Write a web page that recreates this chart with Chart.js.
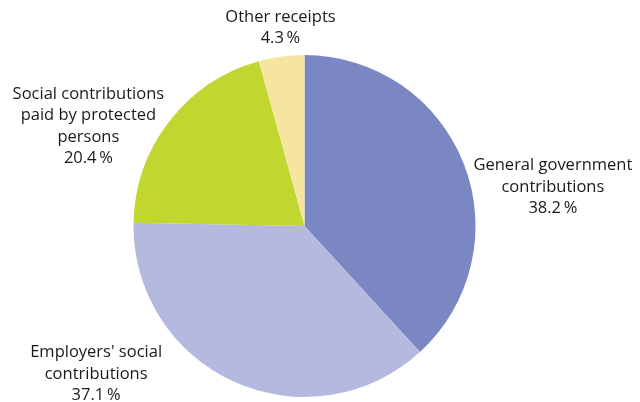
<!DOCTYPE html>
<html>
<head>
<meta charset="utf-8">
<script src="https://cdn.jsdelivr.net/npm/chart.js"></script>
<style>
  html, body { margin:0; padding:0; background:#fff; }
  #wrap { width:640px; height:402px; }
</style>
</head>
<body>
<div id="wrap"><canvas id="chartReceipts" width="640" height="402"></canvas></div>
<script>
// --- receipts by type, share of total (%) ---
const categories = [
  ['General government', 'contributions'],
  ["Employers' social", 'contributions'],
  ['Social contributions', 'paid by protected', 'persons'],
  ['Other receipts']
];
const shares = [38.2, 37.1, 20.4, 4.3];
const colours = ['#7b87c3', '#b6b9df', '#c1d72f', '#f6e59f'];

// where each label block sits, relative to the outer middle of its slice
const labelOffsets = [[89, 23], [-138, -8], [-81, 5], [-1, -29]];

const FONT = '16.5px "Open Sans", "Noto Sans", sans-serif';
const LINE_H = 21.5;

const outsideLabels = {
  id: 'outsideLabels',
  afterDatasetsDraw(chart) {
    const ctx = chart.ctx;
    const meta = chart.getDatasetMeta(0);
    ctx.save();
    ctx.font = FONT;
    ctx.fillStyle = '#1a1a1a';
    ctx.textAlign = 'center';
    ctx.textBaseline = 'middle';
    meta.data.forEach((arc, i) => {
      const p = arc.getProps(['x', 'y', 'startAngle', 'endAngle', 'outerRadius'], true);
      const mid = (p.startAngle + p.endAngle) / 2;
      const ax = p.x + Math.cos(mid) * p.outerRadius + labelOffsets[i][0];
      const ay = p.y + Math.sin(mid) * p.outerRadius + labelOffsets[i][1];
      const lines = categories[i].concat([shares[i].toFixed(1) + '\u2009%']);
      const top = ay - (lines.length - 1) * LINE_H / 2;
      lines.forEach((t, k) => ctx.fillText(t, ax, top + k * LINE_H));
    });
    ctx.restore();
  }
};

const ctxR = document.getElementById('chartReceipts').getContext('2d');
new Chart(ctxR, {
  type: 'pie',
  data: {
    labels: categories.map(c => c.join(' ')),
    datasets: [{ data: shares, backgroundColor: colours, borderWidth: 0 }]
  },
  options: {
    responsive: false,
    animation: false,
    layout: { padding: { top: 55, bottom: 5, left: 0, right: 31 } },
    plugins: { legend: { display: false }, tooltip: { enabled: false } }
  },
  plugins: [outsideLabels]
});
</script>
</body>
</html>
